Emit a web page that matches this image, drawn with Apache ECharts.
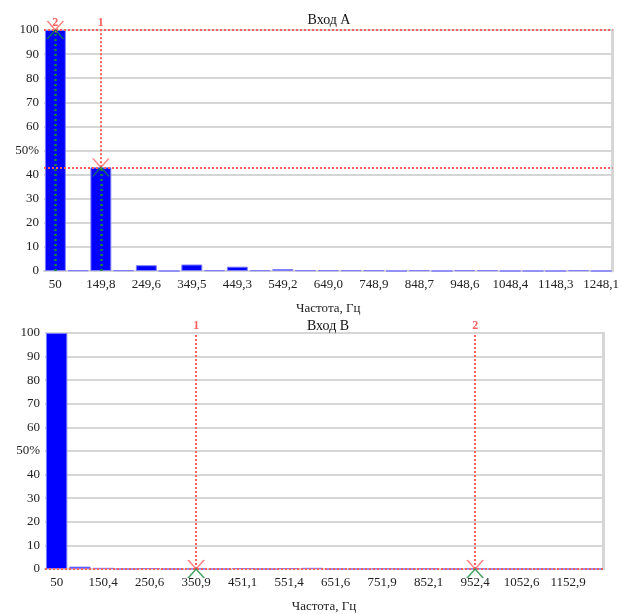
<!DOCTYPE html>
<html>
<head>
<meta charset="utf-8">
<script src="https://cdn.jsdelivr.net/npm/echarts@6/dist/echarts.min.js"></script>
<style>
html,body{margin:0;padding:0;background:#fff;}
#c{width:622px;height:614px;}
</style>
</head>
<body>
<div id="c"></div>
<script>
// ---- Data ----
const titleA = 'Вход А';
const titleB = 'Вход В';
const axisName = 'Частота, Гц';
const freqA = [50, 99.9, 149.8, 199.7, 249.6, 299.6, 349.5, 399.4, 449.3, 499.2, 549.2, 599.1, 649.0, 698.9, 748.9, 798.8, 848.7, 898.6, 948.6, 998.5, 1048.4, 1098.4, 1148.3, 1198.2, 1248.1];
const valuesA = [100, 0.3, 43, 0.3, 2.4, 0, 2.7, 0.3, 1.8, 0.3, 0.8, 0.3, 0.3, 0.3, 0.3, 0, 0.3, 0, 0.3, 0.3, 0, 0, 0, 0.3, 0];
const freqB = [50, 100.2, 150.4, 200.5, 250.6, 300.8, 350.9, 401.0, 451.1, 501.3, 551.4, 601.5, 651.6, 701.8, 751.9, 802.0, 852.1, 902.3, 952.4, 1002.5, 1052.6, 1102.8, 1152.9, 1203.0];
const valuesB = [100, 1.0, 0.5, 0, 0.4, 0, 0.1, 0, 0.4, 0, 0.4, 0.5, 0, 0, 0.2, 0, 0.2, 0, 0.2, 0, 0, 0, 0, 0];
// markers: [category index, value, label]
const markersA = [[2, 43, '1'], [0, 100, '2']];
const markersB = [[6, 0, '1'], [18, 0, '2']];
const yTicks = [0, 10, 20, 30, 40, 50, 60, 70, 80, 90, 100];

// ---- Styles ----
const FONT = 'Liberation Serif';
const RED = '#ff5f5f';
const GREEN = '#138a3a';
const GRIDC = '#d6d6d6';

function fmtFreq(v) {
  const n = Number(v);
  return n === 50 ? '50' : n.toFixed(1).replace('.', ',');
}

function xAxisFor(gi, freqs) {
  return {
    type: 'category', gridIndex: gi, data: freqs.map(String),
    boundaryGap: true,
    axisTick: {show: false},
    axisLine: {show: true, lineStyle: {color: GRIDC, width: 2}},
    axisLabel: {interval: 1, margin: 7, color: '#222', fontFamily: FONT, fontSize: 13, formatter: fmtFreq},
    name: axisName, nameLocation: 'middle', nameGap: 31,
    nameTextStyle: {color: '#222', fontFamily: FONT, fontSize: 13}
  };
}
function yAxisFor(gi) {
  return {
    type: 'value', gridIndex: gi, min: yTicks[0], max: yTicks[yTicks.length - 1], interval: 10,
    axisLine: {show: false}, axisTick: {show: false},
    splitLine: {show: true, lineStyle: {color: GRIDC, width: 2}},
    axisLabel: {margin: 5, color: '#222', fontFamily: FONT, fontSize: 13,
      formatter: v => v === 50 ? '50%' : String(v)}
  };
}
function rightAxisFor(gi) {
  return {
    type: 'value', gridIndex: gi, min: 0, max: 100, position: 'right',
    axisLine: {show: true, lineStyle: {color: GRIDC, width: 3}},
    axisTick: {show: false}, axisLabel: {show: false}, splitLine: {show: false}
  };
}

function seriesFor(gi, values, markers, greenLines) {
  const xi = gi, yi = gi * 2;
  const top = yTicks[yTicks.length - 1];
  const redLines = [];
  const horizontals = [...new Set(markers.map(m => m[1]))];
  horizontals.forEach(h => redLines.push({yAxis: h, label: {show: false}}));
  markers.forEach(m => {
    redLines.push([
      {coord: [m[0], Math.min(m[1], top - 1)]},
      {coord: [m[0], top], label: {show: true, position: 'end', formatter: m[2], color: RED, fontSize: 12, fontWeight: 'bold', fontFamily: FONT, distance: 1}}
    ]);
  });
  return [
    {
      type: 'line', xAxisIndex: xi, yAxisIndex: yi, data: values, z: 1,
      symbol: 'none', lineStyle: {opacity: 0}, silent: true,
      markLine: {silent: true, symbol: ['none', 'none'], animation: false,
        lineStyle: {color: RED, type: [2, 2], width: 2}, label: {show: false}, data: redLines}
    },
    {
      type: 'bar', xAxisIndex: xi, yAxisIndex: yi, data: values, z: 2,
      barCategoryGap: '8%',
      itemStyle: {color: '#0000ff', borderColor: '#7d7dff', borderWidth: 1},
      markLine: greenLines ? {silent: true, symbol: ['none', 'none'], animation: false,
        lineStyle: {color: GREEN, type: [2, 3], width: 2.5}, label: {show: false},
        data: markers.map(m => [{coord: [m[0], 0]}, {coord: [m[0], m[1]]}])} : undefined
    },
    {
      type: 'scatter', xAxisIndex: xi, yAxisIndex: yi, z: 5, silent: true,
      data: markers.map(m => [m[0], m[1]]),
      symbol: 'path://M0,0L5,6L10,0', symbolSize: [16, 9], symbolOffset: [0, -4.5],
      itemStyle: {color: 'rgba(0,0,0,0)', borderColor: RED, borderWidth: 1.3}
    },
    {
      type: 'scatter', xAxisIndex: xi, yAxisIndex: yi, z: 5, silent: true,
      data: markers.map(m => [m[0], m[1]]),
      symbol: 'path://M0,6L5,0L10,6', symbolSize: [16, 9], symbolOffset: [0, 4.5],
      itemStyle: {color: 'rgba(0,0,0,0)', borderColor: GREEN, borderWidth: 1.3}
    }
  ];
}

const chart = echarts.init(document.getElementById('c'), null, {renderer: 'canvas'});
chart.setOption({
  animation: false,
  backgroundColor: '#fff',
  textStyle: {fontFamily: FONT},
  title: [
    {text: titleA, left: 324, top: 8, textAlign: 'center',
      textStyle: {fontFamily: FONT, fontSize: 14, fontWeight: 'normal', color: '#111'}},
    {text: titleB, left: 323, top: 314, textAlign: 'center',
      textStyle: {fontFamily: FONT, fontSize: 14, fontWeight: 'normal', color: '#111'}}
  ],
  grid: [
    {left: 44, right: 4, top: 30, height: 241},
    {left: 45, right: 19, top: 333, height: 236}
  ],
  xAxis: [xAxisFor(0, freqA), xAxisFor(1, freqB)],
  yAxis: [yAxisFor(0), rightAxisFor(0), yAxisFor(1), rightAxisFor(1)],
  series: [
    ...seriesFor(0, valuesA, markersA, true),
    ...seriesFor(1, valuesB, markersB, false)
  ]
});
</script>
</body>
</html>
